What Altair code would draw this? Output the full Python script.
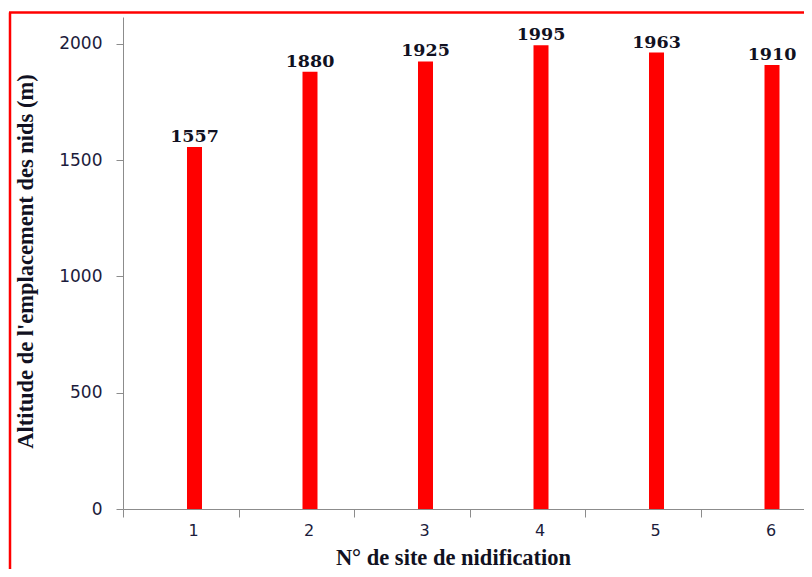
import altair as alt
import pandas as pd

# Data
sites = [1, 2, 3, 4, 5, 6]
altitudes = [1557, 1880, 1925, 1995, 1963, 1910]
y_ticks = [0, 500, 1000, 1500, 2000]

TICK_SHIFT = 0.619  # category boundaries sit left of each bar
boundaries = [s - TICK_SHIFT for s in sites]

df = pd.DataFrame({"site": sites, "alt": altitudes})

x_enc = alt.X(
    "site:Q",
    scale=alt.Scale(domain=[1 - TICK_SHIFT, 6.277], nice=False, zero=False, padding=0),
    axis=alt.Axis(
        values=boundaries,
        labelExpr=f"format(datum.value + {TICK_SHIFT}, '.0f')",
        labelOffset=70,
        labelFlush=False,
        labelFont="DejaVu Sans",
        labelFontSize=16,
        labelColor="#1c1c3c",
        labelPadding=5,
        tickSize=8,
        tickColor="#8c8c8c",
        domainColor="#8c8c8c",
        grid=False,
        title="N° de site de nidification",
        titleFont="Liberation Serif",
        titleFontWeight="bold",
        titleFontSize=22.5,
        titleColor="#111122",
        titleX=330,
        titleY=55,
        titleAlign="center",
        titleBaseline="alphabetic",
    ),
)

y_enc = alt.Y(
    "alt:Q",
    scale=alt.Scale(domain=[0, 2116], nice=False),
    axis=alt.Axis(
        values=y_ticks,
        format="d",
        labelFont="DejaVu Sans",
        labelFontSize=17,
        labelColor="#1c1c3c",
        labelPadding=14,
        tickSize=7,
        tickColor="#8c8c8c",
        domainColor="#8c8c8c",
        grid=False,
        title="Altitude de l'emplacement des nids (m)",
        titleFont="Liberation Serif",
        titleFontWeight="bold",
        titleFontSize=22.5,
        titleColor="#111122",
        titleX=-98,
        titleY=244,
        titleAngle=270,
        titleAlign="center",
        titleBaseline="middle",
    ),
)

base = alt.Chart(df)

bars = base.mark_bar(color="#ff0000", width=15).encode(x=x_enc, y=y_enc)

labels = base.mark_text(
    font="DejaVu Serif",
    fontWeight="bold",
    fontSize=17.5,
    baseline="alphabetic",
    dy=-5,
    color="#111122",
).encode(x="site:Q", y="alt:Q", text="alt:Q")

frame = alt.Data(values=[{"k": 0}])
left_border = alt.Chart(frame).mark_rule(color="#ff0000", strokeWidth=2.5).encode(
    x=alt.value(-113), y=alt.value(-4.5), y2=alt.value(570)
)
top_border = alt.Chart(frame).mark_rule(color="#ff0000", strokeWidth=2.5).encode(
    x=alt.value(-114), x2=alt.value(700), y=alt.value(-4.5)
)

chart = (
    alt.layer(bars, labels, left_border, top_border)
    .properties(
        width=681,
        height=492,
        padding={"left": 115, "top": 9, "right": 0, "bottom": 60},
        autosize=alt.AutoSizeParams(type="none"),
        background="white",
    )
    .configure_view(stroke=None)
)

chart.save("out.html", embed_options={"renderer": "svg", "actions": False})
